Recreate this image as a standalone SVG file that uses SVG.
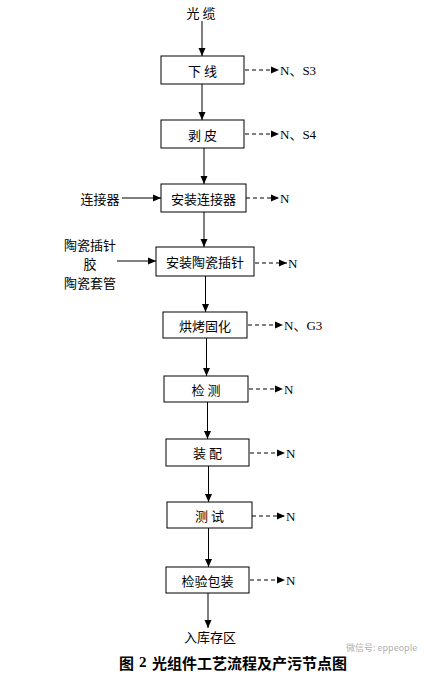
<svg xmlns="http://www.w3.org/2000/svg" width="430" height="678" viewBox="0 0 430 678">
<style>
.box{fill:#fff;stroke:#000;stroke-width:1}
.t{font-family:"Noto Sans CJK SC","Liberation Sans",sans-serif;font-size:13px;fill:#000;text-anchor:middle;dominant-baseline:central}
.e{font-family:"Liberation Serif","Noto Sans CJK SC",serif;font-size:13px;fill:#000;dominant-baseline:central}
.s{stroke:#000;stroke-width:1;fill:none}
.d{stroke:#000;stroke-width:1;fill:none;stroke-dasharray:4,3}
.ti{font-family:"Noto Sans CJK SC","Liberation Serif",serif;font-size:15px;font-weight:bold;fill:#000;dominant-baseline:central}
</style>
<defs>
<marker id="ah" viewBox="0 0 8 8" refX="8" refY="4" markerWidth="8" markerHeight="8" markerUnits="userSpaceOnUse" orient="auto">
<path d="M0,0.5 L8,4 L0,7.5 Z" fill="#000"/>
</marker>
</defs>
<rect width="430" height="678" fill="#fff"/>
<g id="connectors">
<line class="s" x1="202" y1="21" x2="202" y2="56" marker-end="url(#ah)"/>
<line class="s" x1="202" y1="84" x2="202" y2="120" marker-end="url(#ah)"/>
<line class="s" x1="204" y1="148" x2="204" y2="184" marker-end="url(#ah)"/>
<line class="s" x1="204" y1="212" x2="204" y2="247" marker-end="url(#ah)"/>
<line class="s" x1="205.5" y1="276" x2="205.5" y2="312" marker-end="url(#ah)"/>
<line class="s" x1="206.5" y1="338" x2="206.5" y2="376" marker-end="url(#ah)"/>
<line class="s" x1="207.5" y1="402" x2="207.5" y2="439" marker-end="url(#ah)"/>
<line class="s" x1="208.5" y1="466" x2="208.5" y2="502" marker-end="url(#ah)"/>
<line class="s" x1="208.5" y1="528" x2="208.5" y2="567" marker-end="url(#ah)"/>
<line class="s" x1="208" y1="593" x2="208" y2="628" marker-end="url(#ah)"/>
<line class="s" x1="122" y1="198" x2="161" y2="198" marker-end="url(#ah)"/>
<line class="s" x1="117" y1="261" x2="156" y2="261" marker-end="url(#ah)"/>
<line class="d" x1="245" y1="70" x2="279" y2="70" marker-end="url(#ah)"/>
<line class="d" x1="245" y1="134" x2="279" y2="134" marker-end="url(#ah)"/>
<line class="d" x1="246" y1="198" x2="279" y2="198" marker-end="url(#ah)"/>
<line class="d" x1="255" y1="263" x2="287" y2="263" marker-end="url(#ah)"/>
<line class="d" x1="248" y1="325" x2="283" y2="325" marker-end="url(#ah)"/>
<line class="d" x1="249" y1="389" x2="283" y2="389" marker-end="url(#ah)"/>
<line class="d" x1="250" y1="453" x2="285" y2="453" marker-end="url(#ah)"/>
<line class="d" x1="252" y1="516" x2="285" y2="516" marker-end="url(#ah)"/>
<line class="d" x1="250" y1="580" x2="285" y2="580" marker-end="url(#ah)"/>
</g>
<g id="n0"><text class="t" x="201" y="12">光 缆</text></g>
<g id="n1"><rect class="box" x="161" y="56" width="83" height="28"/><text class="t" x="202.5" y="70">下 线</text><text class="e" x="280" y="70">N、S3</text></g>
<g id="n2"><rect class="box" x="161" y="120" width="83" height="28"/><text class="t" x="202.5" y="134">剥 皮</text><text class="e" x="280" y="134">N、S4</text></g>
<g id="n3"><rect class="box" x="161" y="184" width="85" height="28"/><text class="t" x="203.5" y="198">安装连接器</text><text class="e" x="280" y="198">N</text><text class="t" x="100" y="198">连接器</text></g>
<g id="n4"><rect class="box" x="156" y="247" width="98" height="29"/><text class="t" x="205" y="261.5">安装陶瓷插针</text><text class="e" x="288" y="263">N</text>
<text class="t" x="90" y="244">陶瓷插针</text><text class="t" x="90" y="263">胶</text><text class="t" x="90" y="282">陶瓷套管</text></g>
<g id="n5"><rect class="box" x="163" y="312" width="84" height="26"/><text class="t" x="205" y="325">烘烤固化</text><text class="e" x="284" y="325">N、G3</text></g>
<g id="n6"><rect class="box" x="164" y="376" width="84" height="26"/><text class="t" x="206" y="389">检 测</text><text class="e" x="284" y="389">N</text></g>
<g id="n7"><rect class="box" x="166" y="439" width="83" height="27"/><text class="t" x="207.5" y="452.5">装 配</text><text class="e" x="286" y="453">N</text></g>
<g id="n8"><rect class="box" x="167" y="502" width="85" height="26"/><text class="t" x="209.5" y="515">测 试</text><text class="e" x="286" y="516">N</text></g>
<g id="n9"><rect class="box" x="166" y="567" width="83" height="26"/><text class="t" x="207.5" y="580">检验包装</text><text class="e" x="286" y="580">N</text></g>
<g id="n10"><text class="t" x="210" y="636">入库存区</text></g>
<g id="title"><text class="ti" x="119" y="662">图</text><text class="ti" x="139" y="662" style="font-family:'Liberation Serif',serif">2</text><text class="ti" x="152" y="662">光组件工艺流程及产污节点图</text></g>
<g id="watermark"><text x="346" y="647" style="font-family:'Noto Sans CJK SC','Liberation Sans',sans-serif;font-size:9px;fill:#b0b0b0;dominant-baseline:central">微信号: eppeople</text></g>
</svg>
